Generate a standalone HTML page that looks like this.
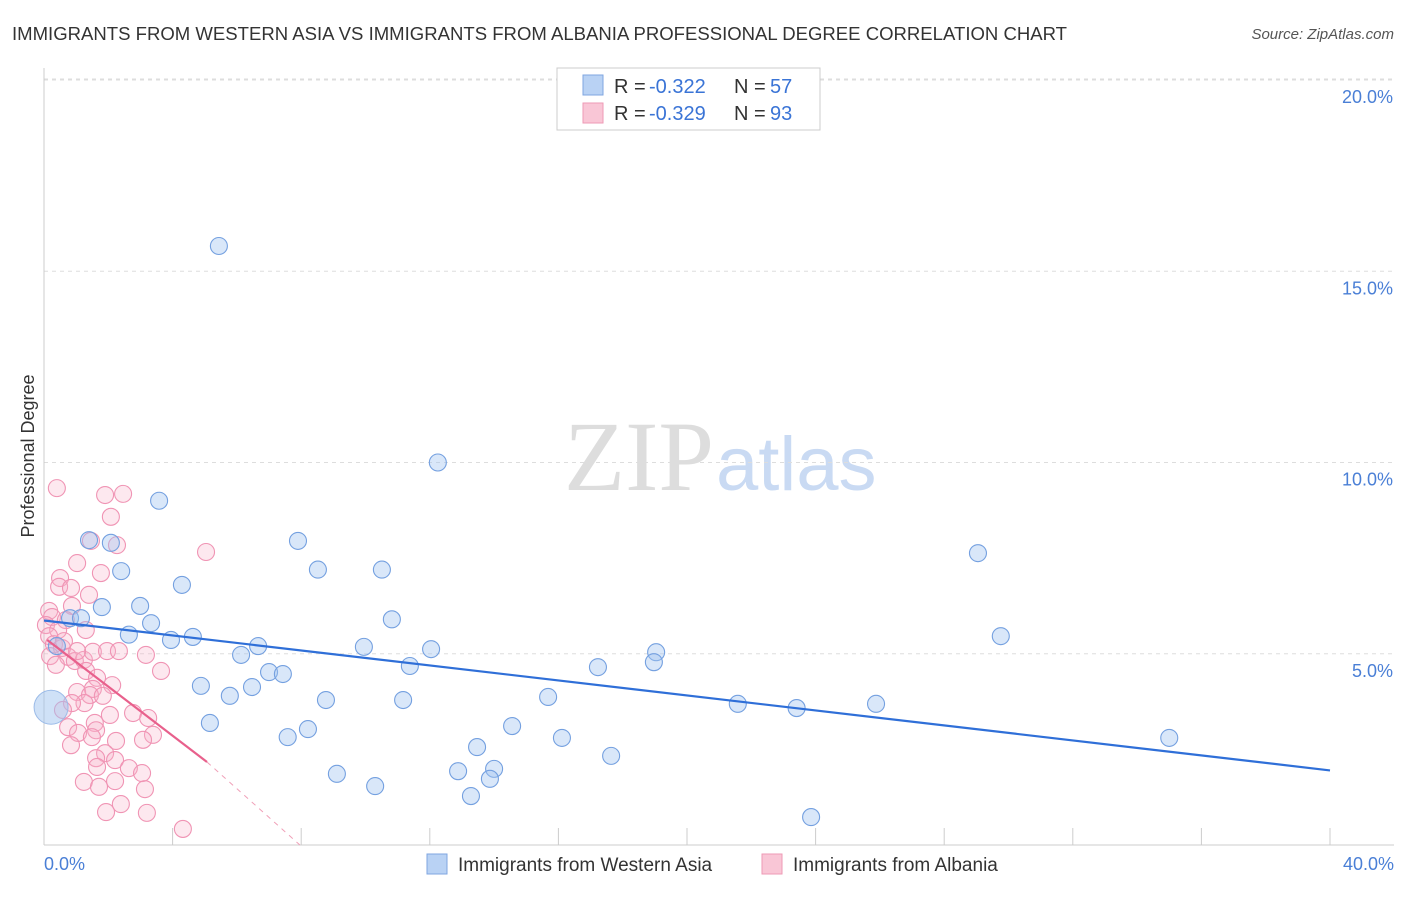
<!DOCTYPE html>
<html><head><meta charset="utf-8"><style>
body{margin:0;background:#fff;font-family:"Liberation Sans",sans-serif;}
</style></head><body>
<svg width="1406" height="892" xmlns="http://www.w3.org/2000/svg">
<text x="12" y="40" font-size="18" fill="#333" textLength="1055" lengthAdjust="spacingAndGlyphs">IMMIGRANTS FROM WESTERN ASIA VS IMMIGRANTS FROM ALBANIA PROFESSIONAL DEGREE CORRELATION CHART</text>
<text x="1394" y="39" font-size="15" fill="#555" font-style="italic" text-anchor="end">Source: ZipAtlas.com</text>
<text x="714" y="490" font-size="100" fill="#ddd" text-anchor="end" font-family="Liberation Serif,serif">ZIP</text>
<text x="716" y="490" font-size="76" fill="#c9daf3">atlas</text>
<g id="grid"></g>
<line x1="44" y1="68" x2="44" y2="845" stroke="#ccc"/>
<line x1="44" y1="845" x2="1394" y2="845" stroke="#ccc"/>
<text transform="translate(34,456) rotate(-90)" font-size="18" fill="#333" text-anchor="middle">Professional Degree</text>
<text x="44" y="870" font-size="18" fill="#4a7fd6">0.0%</text>
<text x="1394" y="870" font-size="18" fill="#4a7fd6" text-anchor="end">40.0%</text>
<g id="pts"></g>
<g id="lines"></g>
<g>
<rect x="557" y="68" width="263" height="62" fill="#fff" stroke="#ccc"/>
<rect x="583" y="75" width="20" height="20" fill="#b9d2f4" stroke="#7fa6e0"/>
<rect x="583" y="103" width="20" height="20" fill="#f9c6d6" stroke="#ee9ab5"/>
<text x="614" y="93" font-size="20" fill="#333">R =</text>
<text x="649" y="93" font-size="20" fill="#3a74d6">-0.322</text>
<text x="734" y="93" font-size="20" fill="#333">N =</text>
<text x="770" y="93" font-size="20" fill="#3a74d6">57</text>
<text x="614" y="120" font-size="20" fill="#333">R =</text>
<text x="649" y="120" font-size="20" fill="#3a74d6">-0.329</text>
<text x="734" y="120" font-size="20" fill="#333">N =</text>
<text x="770" y="120" font-size="20" fill="#3a74d6">93</text>
</g>
<g>
<rect x="427" y="854" width="20" height="20" fill="#b9d2f4" stroke="#7fa6e0"/>
<text x="458" y="871" font-size="19" fill="#333">Immigrants from Western Asia</text>
<rect x="762" y="854" width="20" height="20" fill="#f9c6d6" stroke="#ee9ab5"/>
<text x="793" y="871" font-size="19" fill="#333">Immigrants from Albania</text>
</g>
</svg>
<script>
const yTicks=[5,10,15,20];
const xTickVals=[0,4,8,12,16,20,24,28,32,36,40];
const blueX=[5.44,12.25,3.58,1.40,2.08,7.9,2.4,8.52,10.51,29.05,4.29,1.8,2.99,0.81,1.15,3.33,10.82,2.64,3.95,4.63,6.66,6.13,9.95,12.04,19.04,18.97,29.76,17.23,11.38,7.0,7.43,4.88,6.47,5.78,8.77,11.17,15.68,21.58,23.41,25.88,5.16,8.21,7.58,14.56,16.11,35.0,13.47,17.64,12.88,14.0,13.87,9.11,10.3,13.28,23.86,0.4];
const blueY=[15.66,10.0,9.0,7.97,7.9,7.95,7.16,7.2,7.2,7.63,6.8,6.22,6.25,5.93,5.93,5.8,5.9,5.5,5.36,5.44,5.2,4.97,5.18,5.12,5.04,4.78,5.46,4.65,4.68,4.52,4.47,4.16,4.13,3.9,3.79,3.79,3.87,3.69,3.58,3.69,3.19,3.03,2.82,3.11,2.8,2.8,2.56,2.33,1.93,1.99,1.73,1.86,1.54,1.28,0.73,5.2];
const pinkX=[0.4,1.9,2.46,2.08,1.46,2.27,5.04,1.03,1.77,0.5,0.47,0.84,1.4,0.87,0.16,0.25,0.68,0.06,0.44,0.16,0.31,0.56,0.19,0.75,0.96,1.24,1.52,1.96,2.33,3.17,3.64,0.37,1.31,1.65,1.52,2.12,1.03,1.43,1.83,1.26,0.87,0.59,2.77,3.24,2.05,1.58,0.75,1.62,1.06,1.49,3.39,3.08,2.24,0.84,1.9,2.21,1.62,2.64,1.65,3.05,1.24,2.21,1.71,3.14,2.39,1.93,3.2,4.32,1.03,0.62,1.3];
const pinkY=[9.33,9.15,9.18,8.58,7.95,7.84,7.66,7.37,7.11,6.98,6.75,6.72,6.54,6.25,6.12,5.96,5.88,5.75,5.62,5.46,5.25,5.15,4.94,4.92,4.81,4.84,5.05,5.07,5.07,4.97,4.55,4.71,4.55,4.37,4.08,4.18,4.0,3.92,3.9,3.71,3.71,3.53,3.45,3.32,3.4,3.19,3.08,3.0,2.93,2.82,2.88,2.75,2.72,2.61,2.4,2.22,2.27,2.01,2.04,1.88,1.65,1.67,1.52,1.46,1.07,0.86,0.84,0.42,5.07,5.33,5.62];
const blueTrend=[[0,5.87],[40,1.95]];
const pinkTrend=[[0.1,5.36],[5.07,2.17]];
const pinkDash=[[5.07,2.17],[7.96,0]];
const NS='http://www.w3.org/2000/svg';
const sx=v=>44+v*32.15, sy=v=>845-v*38.25;
function mk(t,a,p){const e=document.createElementNS(NS,t);for(const k in a)e.setAttribute(k,a[k]);p.appendChild(e);return e;}
const grid=document.getElementById('grid');
yTicks.forEach(v=>{
 const l=mk('line',{x1:44,x2:1394,y1:sy(v),y2:sy(v),stroke:'#ddd','stroke-dasharray':'4,4'},grid);
 
 
 const t=mk('text',{x:1393,y:sy(v)+23,'font-size':18,fill:'#4a7fd6','text-anchor':'end'},grid);
 t.textContent=v.toFixed(1)+'%';
 
 
});
mk('line',{x1:44,x2:1394,y1:79,y2:79,stroke:'#ddd','stroke-dasharray':'4,4'},grid);
xTickVals.forEach(v=>{
 const l=mk('line',{x1:sx(v),x2:sx(v),y1:828,y2:845,stroke:'#ccc'},grid);
 
 
});
const pts=document.getElementById('pts');
pinkX.forEach((x,i)=>{
 const c=mk('circle',{cx:sx(x),cy:sy(pinkY[i]),r:8.5,fill:'rgba(248,180,203,0.3)',stroke:'#f094b4','stroke-width':1.1},pts);
 
 
});
blueX.forEach((x,i)=>{
 const c=mk('circle',{cx:sx(x),cy:sy(blueY[i]),r:8.5,fill:'rgba(160,196,240,0.4)',stroke:'#74a0e0','stroke-width':1.1},pts);
 
 
});
const big=mk('circle',{cx:sx(0.22),cy:sy(3.6),r:17,fill:'rgba(160,196,240,0.5)',stroke:'#9bbbe8'},pts);


const lg=document.getElementById('lines');
function ln(d,st,name,dash){const l=mk('line',{x1:sx(d[0][0]),y1:sy(d[0][1]),x2:sx(d[1][0]),y2:sy(d[1][1]),stroke:st,'stroke-width':dash?1:2.2},lg);if(dash)l.setAttribute('stroke-dasharray','5,5');
 
 }
ln(blueTrend,'#2f6fd8','western-asia-trend');
ln(pinkTrend,'#e8608c','albania-trend');
ln(pinkDash,'#f0a0b8','albania-trend-extension',true);
</script>
</body></html>
